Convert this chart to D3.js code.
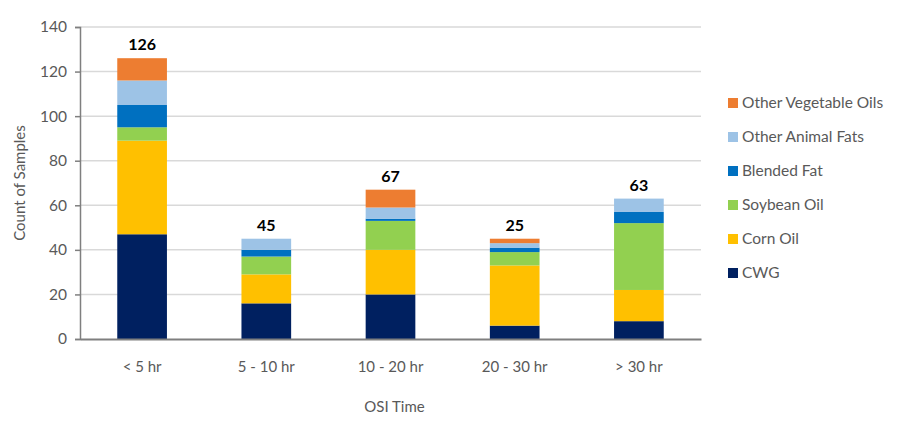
<!DOCTYPE html>
<html>
<head>
<meta charset="utf-8">
<script src="https://cdn.jsdelivr.net/npm/d3@7"></script>
<style>
  body { margin: 0; background: #fff; }
  svg { font-family: Lato, "Open Sans", sans-serif; }
</style>
</head>
<body>
<svg id="plot"></svg>
<script>
const WIDTH = 917;
const HEIGHT = 424;

// Data
const categories = ['< 5 hr', '5 - 10 hr', '10 - 20 hr', '20 - 30 hr', '> 30 hr'];
const seriesNames = ['CWG', 'Corn Oil', 'Soybean Oil', 'Blended Fat', 'Other Animal Fats', 'Other Vegetable Oils'];
const cwg = [47, 16, 20, 6, 8];
const cornOil = [42, 13, 20, 27, 14];
const soybeanOil = [6, 8, 13, 6, 30];
const blendedFat = [10, 3, 1, 2, 5];
const otherAnimalFats = [11, 5, 5, 2, 6];
const otherVegetableOils = [10, 0, 8, 2, 0];
const totalLabels = [126, 45, 67, 25, 63];
const yTicks = [0, 20, 40, 60, 80, 100, 120, 140];

const colors = ['#002060', '#FFC000', '#92D050', '#0070C0', '#9DC3E6', '#ED7D31'];

function start() {
    const margin = { left: 80, right: 216, top: 27, bottom: 85 };
    const plotRight = WIDTH - margin.right;
    const plotBottom = HEIGHT - margin.bottom;

    let seriesValues = [cwg, cornOil, soybeanOil, blendedFat, otherAnimalFats, otherVegetableOils];
    let table = categories.map((c, i) => {
        let row = { category: c };
        seriesNames.forEach((s, j) => row[s] = seriesValues[j][i]);
        return row;
    });
    let stacked = d3.stack().keys(seriesNames)(table);

    let chart = d3.select('#plot')
        .attr('width', WIDTH)
        .attr('height', HEIGHT);

    let xScale = d3.scaleBand()
        .domain(categories)
        .range([margin.left, plotRight])
        .paddingInner(0.6)
        .paddingOuter(0.3);

    let yScale = d3.scaleLinear()
        .domain([0, 140])
        .range([plotBottom, margin.top]);

    // Gridlines
    chart.append('g')
        .selectAll('line')
        .data(yTicks.slice(1))
        .enter().append('line')
            .attr('x1', margin.left)
            .attr('x2', plotRight)
            .attr('y1', d => yScale(d))
            .attr('y2', d => yScale(d))
            .attr('stroke', '#d9d9d9')
            .attr('stroke-width', 1.5);

    // Bars
    chart.append('g')
        .selectAll('g')
        .data(stacked)
        .enter().append('g')
            .attr('fill', (d, i) => colors[i])
        .selectAll('rect')
        .data(d => d)
        .enter().append('rect')
            .attr('x', d => xScale(d.data.category))
            .attr('width', xScale.bandwidth())
            .attr('y', d => yScale(d[1]))
            .attr('height', d => yScale(d[0]) - yScale(d[1]));

    // Total labels
    let topOf = categories.map((c, i) => d3.sum(seriesValues, s => s[i]));
    chart.append('g')
        .selectAll('text')
        .data(categories)
        .enter().append('text')
            .attr('x', d => xScale(d) + xScale.bandwidth() / 2)
            .attr('y', (d, i) => yScale(topOf[i]) - 8)
            .attr('text-anchor', 'middle')
            .attr('font-size', 16)
            .attr('font-weight', 'bold')
            .attr('fill', '#000')
            .text((d, i) => totalLabels[i]);

    // Y axis
    let yAxis = chart.append('g')
        .attr('transform', `translate(${margin.left}, 0)`)
        .call(d3.axisLeft(yScale).tickValues(yTicks).tickSize(5).tickPadding(8));
    yAxis.select('.domain').attr('stroke', '#7f7f7f').attr('stroke-width', 1.5);
    yAxis.selectAll('.tick line').attr('stroke', '#7f7f7f').attr('stroke-width', 1.5);
    yAxis.selectAll('.tick text')
        .attr('fill', '#595959')
        .attr('font-size', 15.5)
        .attr('font-family', 'Lato, sans-serif');

    // X axis
    let xAxis = chart.append('g')
        .attr('transform', `translate(0, ${plotBottom})`)
        .call(d3.axisBottom(xScale).tickSize(0).tickPadding(22).tickSizeOuter(0));
    xAxis.select('.domain').attr('stroke', '#7f7f7f').attr('stroke-width', 2);
    xAxis.selectAll('.tick text')
        .attr('fill', '#595959')
        .attr('font-size', 15)
        .attr('font-family', 'Lato, sans-serif');

    // Axis titles
    chart.append('text')
        .attr('x', (margin.left + plotRight) / 2 + 4)
        .attr('y', 412)
        .attr('text-anchor', 'middle')
        .attr('font-size', 15)
        .attr('fill', '#595959')
        .text('OSI Time');

    chart.append('text')
        .attr('transform', `translate(25, ${(margin.top + plotBottom) / 2}) rotate(-90)`)
        .attr('text-anchor', 'middle')
        .attr('font-size', 15)
        .attr('fill', '#595959')
        .text('Count of Samples');

    // Legend (reversed order, top to bottom)
    let legendItems = seriesNames.map((s, i) => ({ name: s, color: colors[i] })).reverse();
    let legend = chart.append('g')
        .selectAll('g')
        .data(legendItems)
        .enter().append('g')
            .attr('transform', (d, i) => `translate(728, ${103 + i * 34})`);
    legend.append('rect')
        .attr('x', 0)
        .attr('y', -5)
        .attr('width', 10)
        .attr('height', 10)
        .attr('fill', d => d.color);
    legend.append('text')
        .attr('x', 14)
        .attr('y', 0)
        .attr('dy', '0.35em')
        .attr('font-size', 15.5)
        .attr('fill', '#595959')
        .text(d => d.name);
}

window.onload = start;
</script>
</body>
</html>
